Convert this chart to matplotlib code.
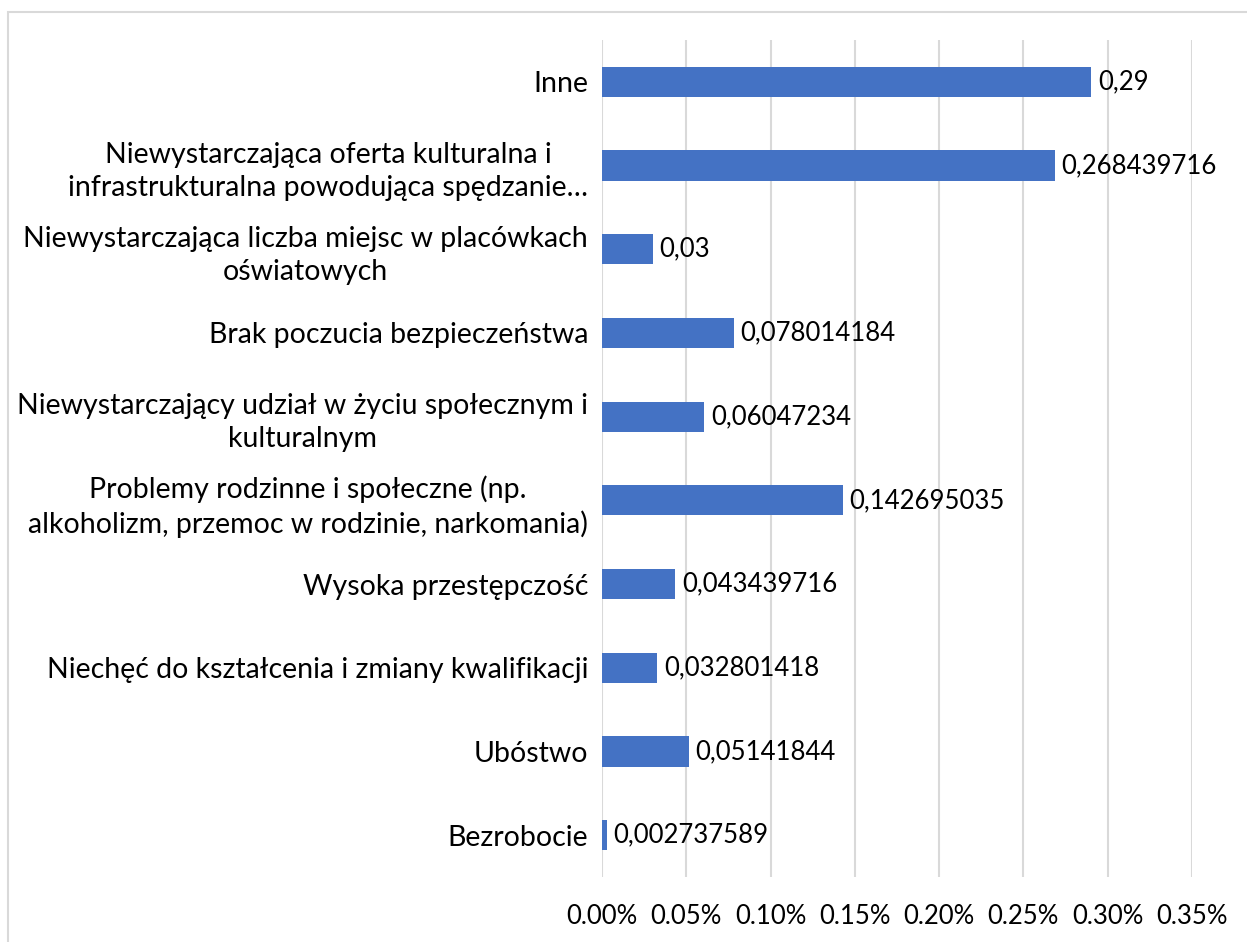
import matplotlib
matplotlib.use('Agg')
import matplotlib.pyplot as plt
from matplotlib.patches import Rectangle

# dane z wykresu (od dołu do góry)
categories = [
    'Bezrobocie',
    'Ubóstwo',
    'Niechęć do kształcenia i zmiany kwalifikacji',
    'Wysoka przestępczość',
    'Problemy rodzinne i społeczne (np.\nalkoholizm, przemoc w rodzinie, narkomania)',
    'Niewystarczający udział w życiu społecznym i\nkulturalnym',
    'Brak poczucia bezpieczeństwa',
    'Niewystarczająca liczba miejsc w placówkach\noświatowych',
    'Niewystarczająca oferta kulturalna i\ninfrastrukturalna powodująca spędzanie…',
    'Inne',
]
values = [0.002737589, 0.05141844, 0.032801418, 0.043439716, 0.142695035,
          0.06047234, 0.078014184, 0.03, 0.268439716, 0.29]
value_labels = ['0,002737589', '0,05141844', '0,032801418', '0,043439716', '0,142695035',
                '0,06047234', '0,078014184', '0,03', '0,268439716', '0,29']
xticks = [0, 0.05, 0.10, 0.15, 0.20, 0.25, 0.30, 0.35]
xtick_labels = ['0.00%', '0.05%', '0.10%', '0.15%', '0.20%', '0.25%', '0.30%', '0.35%']

plt.rcParams['font.family'] = ['Lato', 'DejaVu Sans']
fs_cat = 20.5
fs_num = 18.5

fig = plt.figure(figsize=(12.47, 9.42), dpi=100)
ax = fig.add_axes([602/1247, 1 - 877/942, (1192 - 602)/1247, (877 - 40)/942])

# ramka wykresu
fig.patches.append(Rectangle((8/1247, -0.1), 1.2, 1 - 12/942 + 0.1,
                             transform=fig.transFigure, fill=False,
                             edgecolor='#D9D9D9', linewidth=1.5))

ypos = list(range(len(categories)))
ax.barh(ypos, values, height=0.36, color='#4472C4', zorder=3)

for y, v, lab in zip(ypos, values, value_labels):
    ax.annotate(lab, (v, y), xytext=(5, 0), textcoords='offset points',
                ha='left', va='center', fontsize=fs_num, color='#000000')

ax.set_xlim(0, 0.35)
ax.set_ylim(-0.5, len(categories) - 0.5)
ax.set_xticks(xticks)
ax.set_xticklabels(xtick_labels, fontsize=fs_num)
ax.set_yticks(ypos)
ax.set_yticklabels(categories, fontsize=fs_cat, multialignment='center',
                   linespacing=1.35)
ax.tick_params(axis='both', length=0)
ax.tick_params(axis='x', pad=19.5)
ax.tick_params(axis='y', pad=10)
ax.grid(axis='x', color='#D9D9D9', linewidth=1.5, zorder=0)
for s in ax.spines.values():
    s.set_visible(False)

fig.savefig('out.png', dpi=100)
